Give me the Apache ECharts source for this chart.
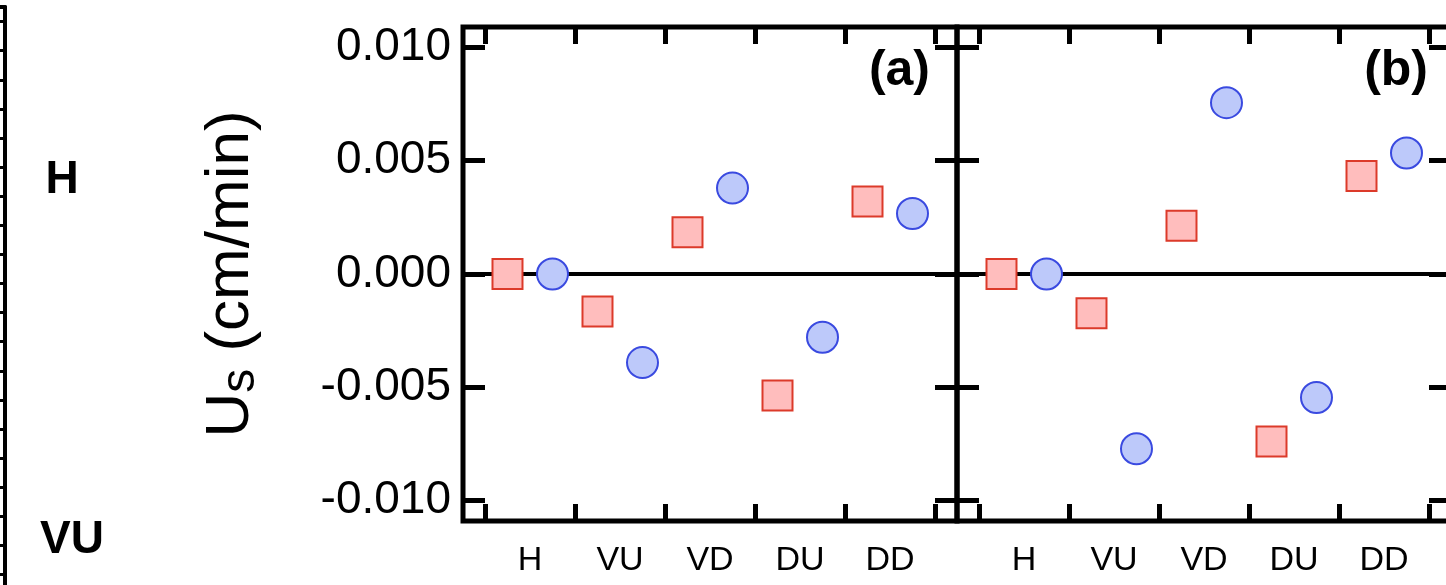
<!DOCTYPE html>
<html>
<head>
<meta charset="utf-8">
<script src="https://cdn.jsdelivr.net/npm/echarts@6/dist/echarts.min.js"></script>
<style>
  html, body { margin: 0; padding: 0; background: #fff; }
  #chart { width: 1446px; height: 585px; }
</style>
</head>
<body>
<div id="chart"></div>
<script>
// Flow configurations along the x axis
const categories = ['H', 'VU', 'VD', 'DU', 'DD'];

// Panel (a): Us in cm/min
const squaresA = [0.0000, -0.00166, 0.00184, -0.00536, 0.00320];
const circlesA = [0.0000, -0.00391, 0.00379, -0.00279, 0.00267];

// Panel (b): Us in cm/min
const squaresB = [0.0000, -0.00173, 0.00213, -0.00739, 0.00433];
const circlesB = [0.0000, -0.00771, 0.00756, -0.00545, 0.00534];

// Y tick values
const yTicks = [-0.010, -0.005, 0.000, 0.005, 0.010];

// Tick values on the neighbouring (clipped) panel's right edge
const stripTicks = [0.5, 1.5, 2.5, 3.5, 4.5, 5.5, 6.5, 7.5, 8.5, 9.5,
                    10.5, 11.5, 12.5, 13.5, 14.5, 15.5, 16.5, 17.5, 18.5, 19.5];

const FONT = 'Liberation Sans, Arial, Helvetica, sans-serif';
const Y_MAX = 0.0109;
const X_PAD = 0.2444;

// category boundaries and centres on a value scale
const xBounds = categories.map((_, i) => i).concat([categories.length]);
const xCentres = categories.map((_, i) => i + 0.5);

const panels = [
  { left: 463, squares: squaresA, circles: circlesA, yLabels: true },
  { left: 957, squares: squaresB, circles: circlesB, yLabels: false }
];

const grid = [];
const xAxis = [];
const yAxis = [];
const series = [];

panels.forEach((p, k) => {
  grid.push({
    left: p.left, top: 27, width: 494, height: 494,
    outerBoundsMode: 'none', containLabel: false,
    show: true, borderColor: '#000', borderWidth: 5, backgroundColor: 'transparent'
  });
  const tickStyle = { color: '#000', width: 5 };
  // bottom axis: ticks at category boundaries, labels at centres
  xAxis.push({
    type: 'value', gridIndex: k, position: 'bottom',
    min: -X_PAD, max: categories.length + X_PAD,
    axisLine: { show: false, onZero: false },
    axisTick: { show: true, inside: true, length: 17, customValues: xBounds, lineStyle: tickStyle },
    axisLabel: {
      show: true, customValues: xCentres, margin: 23,
      formatter: v => categories[Math.floor(v)],
      fontSize: 34, color: '#000', fontFamily: FONT
    },
    splitLine: { show: false }
  });
  // top axis: ticks only
  xAxis.push({
    type: 'value', gridIndex: k, position: 'top',
    min: -X_PAD, max: categories.length + X_PAD,
    axisLine: { show: false, onZero: false },
    axisTick: { show: true, inside: true, length: 17, customValues: xBounds, lineStyle: tickStyle },
    axisLabel: { show: false },
    splitLine: { show: false }
  });
  yAxis.push({
    type: 'value', gridIndex: k, position: 'left',
    min: -Y_MAX, max: Y_MAX,
    axisLine: { show: false, onZero: false },
    axisTick: { show: true, inside: true, length: 22, customValues: yTicks, lineStyle: tickStyle },
    axisLabel: {
      show: p.yLabels, customValues: yTicks, margin: 12,
      formatter: v => v.toFixed(3),
      fontSize: 46, color: '#000', fontFamily: FONT
    },
    splitLine: { show: false },
    name: p.yLabels ? '{u|U}{s|s}{u| (cm/min)}' : '',
    nameLocation: 'middle',
    nameGap: 198,
    nameTextStyle: {
      color: '#000', fontFamily: FONT, fontSize: 62,
      rich: {
        u: { fontSize: 62, fontFamily: FONT, color: '#000' },
        s: { fontSize: 48, fontFamily: FONT, color: '#000', padding: [20, 0, 0, 0] }
      }
    }
  });
  yAxis.push({
    type: 'value', gridIndex: k, position: 'right',
    min: -Y_MAX, max: Y_MAX,
    axisLine: { show: false, onZero: false },
    axisTick: { show: true, inside: true, length: 22, customValues: yTicks, lineStyle: tickStyle },
    axisLabel: { show: false },
    splitLine: { show: false }
  });

  series.push({
    type: 'scatter', xAxisIndex: 2 * k, yAxisIndex: 2 * k,
    symbol: 'rect', symbolSize: 30, z: 10,
    data: p.squares.map((v, i) => [i + 0.25, v]),
    itemStyle: { color: '#ffbdbd', borderColor: '#dc3a2a', borderWidth: 2, opacity: 1 },
    markLine: {
      silent: true, symbol: 'none', z: 1, animation: false,
      label: { show: false },
      lineStyle: { color: '#000', width: 4, type: 'solid' },
      data: [{ yAxis: 0 }]
    }
  });
  series.push({
    type: 'scatter', xAxisIndex: 2 * k, yAxisIndex: 2 * k,
    symbol: 'circle', symbolSize: 31, z: 10,
    data: p.circles.map((v, i) => [i + 0.75, v]),
    itemStyle: { color: '#bdc9fa', borderColor: '#3a4ae0', borderWidth: 2, opacity: 1 }
  });
});

// clipped neighbouring panel on the far left
grid.push({ left: -300, top: 7, width: 305, height: 582, outerBoundsMode: 'none', containLabel: false });
xAxis.push({
  type: 'value', gridIndex: 2, position: 'top', min: 0, max: 1,
  axisLine: { show: true, onZero: false, lineStyle: { color: '#000', width: 4 } },
  axisTick: { show: false }, axisLabel: { show: false }, splitLine: { show: false }
});
yAxis.push({
  type: 'value', gridIndex: 2, position: 'right', inverse: true, min: 0, max: 20,
  axisLine: { show: true, onZero: false, lineStyle: { color: '#000', width: 4 } },
  axisTick: { show: true, inside: true, length: 10, customValues: stripTicks, lineStyle: { color: '#000', width: 3 } },
  axisLabel: { show: false }, splitLine: { show: false }
});

const chart = echarts.init(document.getElementById('chart'), null, { renderer: 'canvas' });
chart.setOption({
  animation: false,
  backgroundColor: '#fff',
  grid, xAxis, yAxis, series,
  graphic: [
    { type: 'text', x: 930, y: 46, style: { text: '(a)', fill: '#000', font: 'bold 50px ' + FONT, textAlign: 'right', textVerticalAlign: 'top' } },
    { type: 'text', x: 1428, y: 46, style: { text: '(b)', fill: '#000', font: 'bold 50px ' + FONT, textAlign: 'right', textVerticalAlign: 'top' } },
    { type: 'text', x: 62, y: 180, style: { text: 'H', fill: '#000', font: 'bold 46px ' + FONT, textAlign: 'center', textVerticalAlign: 'middle' } },
    { type: 'text', x: 72, y: 540, style: { text: 'VU', fill: '#000', font: 'bold 46px ' + FONT, textAlign: 'center', textVerticalAlign: 'middle' } }
  ]
});
</script>
</body>
</html>
